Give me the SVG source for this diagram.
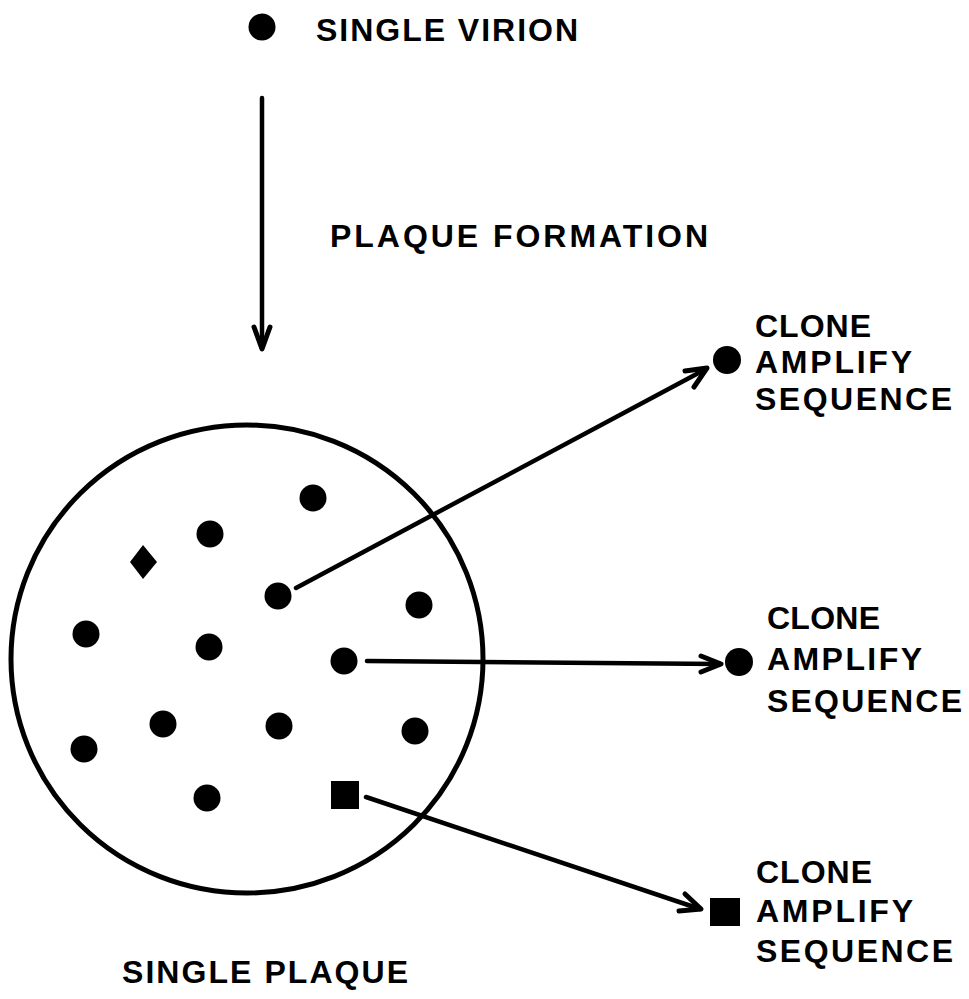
<svg xmlns="http://www.w3.org/2000/svg" width="969" height="999" viewBox="0 0 969 999">
<style>
text { font-family: "Liberation Sans", Arial, sans-serif; font-weight: bold; font-size: 32px; fill: #000; }
.dot { fill: #000; }
.conn { stroke: #000; stroke-width: 4.5; fill: none; stroke-linecap: round; }
.head { stroke: #000; stroke-width: 5; fill: none; stroke-linecap: round; stroke-linejoin: round; }
</style>
<rect width="969" height="999" fill="#fff"/>
<g id="virion">
  <circle class="dot" cx="262" cy="27" r="13.5"/>
  <text x="316" y="41" textLength="262" lengthAdjust="spacing">SINGLE VIRION</text>
</g>
<g id="plaque-formation-label">
  <text x="330" y="247" textLength="378" lengthAdjust="spacing">PLAQUE FORMATION</text>
</g>
<g id="plaque">
  <ellipse cx="247" cy="659" rx="236" ry="234" fill="none" stroke="#000" stroke-width="5"/>
  <circle class="dot" cx="313" cy="498" r="13.5"/>
  <circle class="dot" cx="210" cy="534" r="13.5"/>
  <polygon class="dot" points="143,545 157,562 143,579 130,562"/>
  <circle class="dot" cx="278" cy="596" r="13.5"/>
  <circle class="dot" cx="419" cy="605" r="13.5"/>
  <circle class="dot" cx="86" cy="634" r="13.5"/>
  <circle class="dot" cx="209" cy="647" r="13.5"/>
  <circle class="dot" cx="344" cy="661" r="13.5"/>
  <circle class="dot" cx="163" cy="724" r="13.5"/>
  <circle class="dot" cx="279" cy="726" r="13.5"/>
  <circle class="dot" cx="415" cy="731" r="13.5"/>
  <circle class="dot" cx="84" cy="749" r="13.5"/>
  <circle class="dot" cx="207" cy="798" r="13.5"/>
  <rect class="dot" x="331" y="781" width="28" height="28"/>
</g>
<g id="plaque-label">
  <text x="122" y="983" textLength="286" lengthAdjust="spacing">SINGLE PLAQUE</text>
</g>
<g id="clone1">
  <circle class="dot" cx="727" cy="360" r="14"/>
  <text x="755" y="337" textLength="116" lengthAdjust="spacing">CLONE</text>
  <text x="755" y="373" textLength="157" lengthAdjust="spacing">AMPLIFY</text>
  <text x="755" y="410" textLength="197" lengthAdjust="spacing">SEQUENCE</text>
</g>
<g id="clone2">
  <circle class="dot" cx="739" cy="662" r="14"/>
  <text x="767" y="629" textLength="113" lengthAdjust="spacing">CLONE</text>
  <text x="767" y="670" textLength="155" lengthAdjust="spacing">AMPLIFY</text>
  <text x="767" y="712" textLength="195" lengthAdjust="spacing">SEQUENCE</text>
</g>
<g id="clone3">
  <rect class="dot" x="710" y="898" width="30" height="28"/>
  <text x="756" y="883" textLength="116" lengthAdjust="spacing">CLONE</text>
  <text x="756" y="922" textLength="157" lengthAdjust="spacing">AMPLIFY</text>
  <text x="756" y="962" textLength="197" lengthAdjust="spacing">SEQUENCE</text>
</g>
<g id="connectors">
  <line class="conn" x1="262" y1="98" x2="262" y2="347"/>
  <polyline class="head" points="254,327 262,349 270,327"/>
  <line class="conn" x1="296" y1="588" x2="706" y2="369"/>
  <polyline class="head" points="685,371 707,368 694,387"/>
  <line class="conn" x1="367" y1="661" x2="720" y2="664"/>
  <polyline class="head" points="701,656 721,664 701,672"/>
  <line class="conn" x1="366" y1="797" x2="700" y2="909"/>
  <polyline class="head" points="685,894 701,909 679,911"/>
</g>
</svg>
